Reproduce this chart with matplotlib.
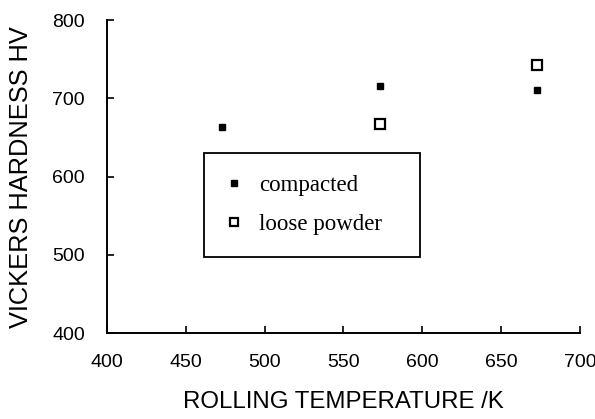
import matplotlib
matplotlib.use("Agg")
import matplotlib.pyplot as plt

# Data
compacted_T = [473, 573, 673]
compacted_HV = [663, 716, 711]
loose_T = [573, 673]
loose_HV = [667, 743]

x_ticks = [400, 450, 500, 550, 600, 650, 700]
y_ticks = [400, 500, 600, 700, 800]

fig = plt.figure(figsize=(5.95, 4.19), dpi=100)
ax = fig.add_axes([107 / 595, 1 - 333 / 419, 473 / 595, 313 / 419])

ax.plot(compacted_T, compacted_HV, linestyle="none", marker="s", markersize=5,
        color="black", label="compacted")
ax.plot(loose_T, loose_HV, linestyle="none", marker="s", markersize=6.5,
        markerfacecolor="white", markeredgecolor="black", markeredgewidth=1.6,
        label="loose powder")

ax.set_xlim(400, 700)
ax.set_ylim(400, 800)
ax.set_xticks(x_ticks)
ax.set_yticks(y_ticks)

for s in ["top", "right"]:
    ax.spines[s].set_visible(False)
for s in ["left", "bottom"]:
    ax.spines[s].set_linewidth(1.4)

ax.tick_params(axis="both", direction="in", length=5, width=1.2)
ax.tick_params(axis="x", pad=15)
ax.tick_params(axis="y", pad=16)
for lab in ax.get_xticklabels() + ax.get_yticklabels():
    lab.set_fontfamily("Liberation Sans")
    lab.set_fontsize(14)

ax.set_xlabel("ROLLING TEMPERATURE /K", fontfamily="Liberation Sans",
              fontsize=17.3, va="center")
ax.xaxis.set_label_coords(0.5, (333 - 402) / 313)
ax.set_ylabel("VICKERS HARDNESS HV", fontfamily="Liberation Sans",
              fontsize=18.3, va="center")
ax.yaxis.set_label_coords((21 - 107) / 473, (333 - 177) / 313)

leg = ax.legend(loc="upper left",
                bbox_to_anchor=((204 - 107) / 473, 0.22, (420 - 204) / 473, (333 - 153) / 313 - 0.22),
                mode="expand", borderaxespad=0, fancybox=False, frameon=True,
                prop=dict(family="Liberation Serif", size=16.5),
                handlelength=0.7, handletextpad=0.75, borderpad=0.95,
                labelspacing=0.8, markerscale=0.8)
frame = leg.get_frame()
frame.set_edgecolor("black")
frame.set_linewidth(1.3)
frame.set_alpha(None)
frame.set_facecolor("white")

fig.savefig("out.png", dpi=100)
